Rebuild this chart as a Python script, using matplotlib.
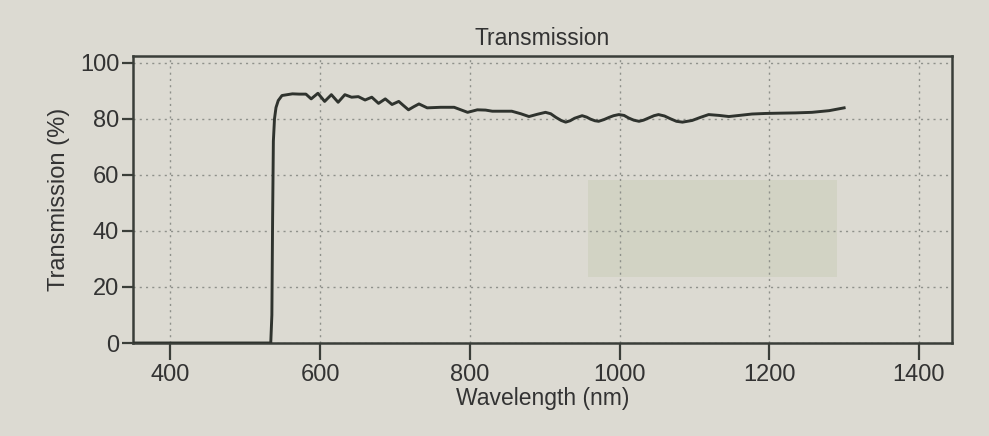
import matplotlib.pyplot as plt
from matplotlib.patches import Rectangle

plt.rcParams['font.family'] = ['Liberation Sans', 'DejaVu Sans']

# spectrum
wavelength = [350, 450, 534, 535.5, 536.5, 537.5, 539, 541, 544, 549, 556, 563,
              572, 581, 588, 597, 606, 615, 624, 633, 642, 651, 660, 669,
              678, 687, 696, 705, 711, 718, 725, 732, 743, 752, 761, 770,
              779, 788, 797, 810, 821, 830, 845, 856, 868, 879, 890, 901,
              908, 915, 922, 928, 934, 940, 950, 956, 961, 967, 972, 979,
              986, 992, 999, 1006, 1012, 1019, 1026, 1032, 1039, 1046, 1052,
              1060, 1068, 1076, 1084, 1097, 1108, 1119, 1133, 1146, 1160,
              1177, 1195, 1213, 1235, 1257, 1280, 1300]
transmission = [0, 0, 0, 10, 45, 72, 80, 84, 86.5, 88.3, 88.6, 88.9,
                88.8, 88.8, 87.1, 89.1, 86.2, 88.6, 85.9, 88.6, 87.7, 87.9, 86.7, 87.7,
                85.5, 87.1, 85.1, 86.2, 84.8, 83.2, 84.3, 85.3, 83.9, 84.0, 84.1, 84.1,
                84.1, 83.2, 82.3, 83.2, 83.1, 82.7, 82.7, 82.7, 81.8, 80.8, 81.6, 82.3,
                81.8, 80.5, 79.4, 78.8, 79.3, 80.2, 81.1, 80.6, 79.9, 79.3, 79.1, 79.7,
                80.5, 81.1, 81.5, 81.2, 80.3, 79.5, 79.1, 79.5, 80.3, 81.1, 81.5,
                81.0, 80.0, 79.1, 78.8, 79.4, 80.5, 81.5, 81.2, 80.8, 81.2,
                81.7, 81.9, 82.0, 82.1, 82.3, 82.9, 83.9]

x_ticks = [400, 600, 800, 1000, 1200, 1400]
y_ticks = [0, 20, 40, 60, 80, 100]

bg = '#dcdad2'
ink = '#2f332e'

fig = plt.figure(figsize=(9.89, 4.36), dpi=100, facecolor=bg)
ax = fig.add_axes([0.1345, 0.2133, 0.828, 0.6589])
ax.set_facecolor(bg)

# the piece of tape stuck on the printout
ax.add_patch(Rectangle((0.556, 0.23), 0.304, 0.337, transform=ax.transAxes,
                       facecolor='#d1d2c2', edgecolor='none', alpha=0.85, zorder=0.5))

ax.plot(wavelength, transmission, color=ink, lw=2.1, solid_joinstyle='round', zorder=3)

ax.set_xlim(350, 1444)
ax.set_ylim(0, 102.5)
ax.set_xticks(x_ticks)
ax.set_yticks(y_ticks)
ax.grid(True, ls=(0, (1.5, 3)), color='#8f918b', lw=1)

for s in ax.spines.values():
    s.set_color('#3a3e39')
    s.set_linewidth(1.8)

ax.tick_params(axis='y', direction='out', length=8, width=1.6, pad=2,
               colors='#3a3e39', labelsize=17, labelcolor='#333')
ax.tick_params(axis='x', direction='out', length=12, width=1.6, pad=3,
               colors='#3a3e39', labelsize=17, labelcolor='#333')

ax.set_title('Transmission', fontsize=16.5, color='#333', pad=8)
ax.set_xlabel('Wavelength (nm)', fontsize=16.5, color='#333', labelpad=1)
ax.set_ylabel('Transmission (%)', fontsize=17, color='#333', labelpad=7)

fig.savefig('out.png', dpi=100, facecolor=bg)
